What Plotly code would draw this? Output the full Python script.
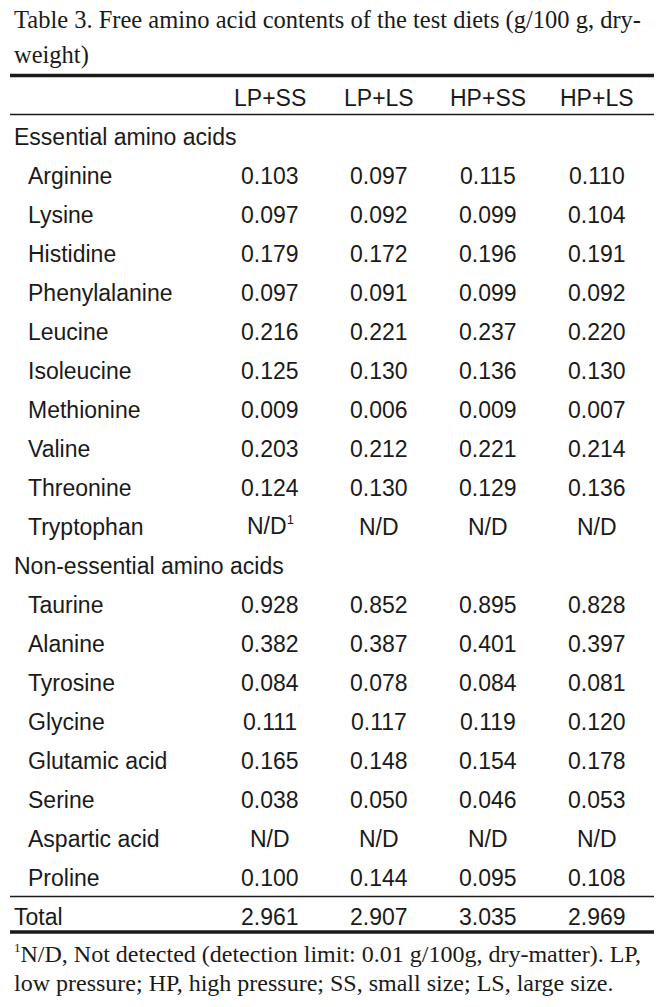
import plotly.graph_objects as go

# table content
columns = ["LP+SS", "LP+LS", "HP+SS", "HP+LS"]
essential = ["Arginine", "Lysine", "Histidine", "Phenylalanine", "Leucine",
             "Isoleucine", "Methionine", "Valine", "Threonine", "Tryptophan"]
non_essential = ["Taurine", "Alanine", "Tyrosine", "Glycine", "Glutamic acid",
                 "Serine", "Aspartic acid", "Proline"]

# None = N/D (not detected)
lp_ss = [0.103, 0.097, 0.179, 0.097, 0.216, 0.125, 0.009, 0.203, 0.124, None,
         0.928, 0.382, 0.084, 0.111, 0.165, 0.038, None, 0.100]
lp_ls = [0.097, 0.092, 0.172, 0.091, 0.221, 0.130, 0.006, 0.212, 0.130, None,
         0.852, 0.387, 0.078, 0.117, 0.148, 0.050, None, 0.144]
hp_ss = [0.115, 0.099, 0.196, 0.099, 0.237, 0.136, 0.009, 0.221, 0.129, None,
         0.895, 0.401, 0.084, 0.119, 0.154, 0.046, None, 0.095]
hp_ls = [0.110, 0.104, 0.191, 0.092, 0.220, 0.130, 0.007, 0.214, 0.136, None,
         0.828, 0.397, 0.081, 0.120, 0.178, 0.053, None, 0.108]
totals = [2.961, 2.907, 3.035, 2.969]

SUP1 = "<sup><span style='font-size:13px'>1</span></sup>"
title_lines = ["Table 3. Free amino acid contents of the test diets (g/100 g, dry-",
               "weight)"]
note_lines = [SUP1 + "N/D, Not detected (detection limit: 0.01 g/100g, dry-matter). LP,",
              "low pressure; HP, high pressure; SS, small size; LS, large size."]

# layout constants
W, H = 667, 1007
ROW0_PX, ROW_STEP = 98, 39          # pixel centre of header row, row pitch
col_x = [270, 379, 488, 597]        # x centres of the value columns
GROUP_X, ITEM_X = 13, 27
INK = "#1a1a1a"
sans = "Liberation Sans, Arial, sans-serif"
serif = "Liberation Serif, Times New Roman, serif"
FS = 23

def row_of_px(p):
    return (p - ROW0_PX) / ROW_STEP

# row bookkeeping
labels, label_x, row_idx = [], [], []
value_rows = []
r = 1
labels.append("Essential amino acids"); label_x.append(GROUP_X); row_idx.append(r); r += 1
for name in essential:
    labels.append(name); label_x.append(ITEM_X); row_idx.append(r); value_rows.append(r); r += 1
labels.append("Non-essential amino acids"); label_x.append(GROUP_X); row_idx.append(r); r += 1
for name in non_essential:
    labels.append(name); label_x.append(ITEM_X); row_idx.append(r); value_rows.append(r); r += 1
total_row = r
labels.append("Total"); label_x.append(GROUP_X); row_idx.append(total_row)

fig = go.Figure()

def text_at(x, y, text, anchor, family=sans, size=FS):
    # superscripts make the text box taller; nudge so the baseline stays put
    shift = 2 if "<sup>" in text else 0
    fig.add_annotation(x=x, y=y, xref="x", yref="y", text=text, showarrow=False,
                       xanchor=anchor, yanchor="middle", borderpad=0, yshift=shift,
                       font=dict(family=family, size=size, color=INK))

def fmt(v, first_nd):
    if v is None:
        return "N/D" + SUP1 if first_nd else "N/D"
    return f"{v:.3f}"

nd_marked = False
for ci, (head, vals) in enumerate(zip(columns, [lp_ss, lp_ls, hp_ss, hp_ls])):
    texts = []
    for v in vals:
        mark = v is None and not nd_marked
        if mark:
            nd_marked = True
        texts.append(fmt(v, mark))
    texts = [head] + texts + [f"{totals[ci]:.3f}"]
    ys = [0] + value_rows + [total_row]
    for t, y in zip(texts, ys):
        text_at(col_x[ci], y, t, "center")

for lab, lx, ry in zip(labels, label_x, row_idx):
    text_at(lx, ry, lab, "left")

# rules
for py, lw in [(75.5, 3.4), (114.5, 1.3), (896.5, 1.3), (932, 3.6)]:
    fig.add_shape(type="line", xref="x", yref="y", x0=10, x1=654,
                  y0=row_of_px(py), y1=row_of_px(py), line=dict(color=INK, width=lw))

# caption and footnote
for text, py in zip(title_lines, [20, 55]):
    text_at(GROUP_X, row_of_px(py), text, "left", serif, 24.5)
for text, py in zip(note_lines, [955, 983]):
    text_at(GROUP_X, row_of_px(py), text, "left", serif, 24)

fig.update_xaxes(range=[0, W], visible=False, fixedrange=True)
fig.update_yaxes(range=[row_of_px(H), row_of_px(0)], visible=False, fixedrange=True)
fig.update_layout(width=W, height=H, margin=dict(l=0, r=0, t=0, b=0),
                  plot_bgcolor="white", paper_bgcolor="white")

fig.write_html("out.html", config={"staticPlot": True},
               post_script="document.body.style.margin='0';")
